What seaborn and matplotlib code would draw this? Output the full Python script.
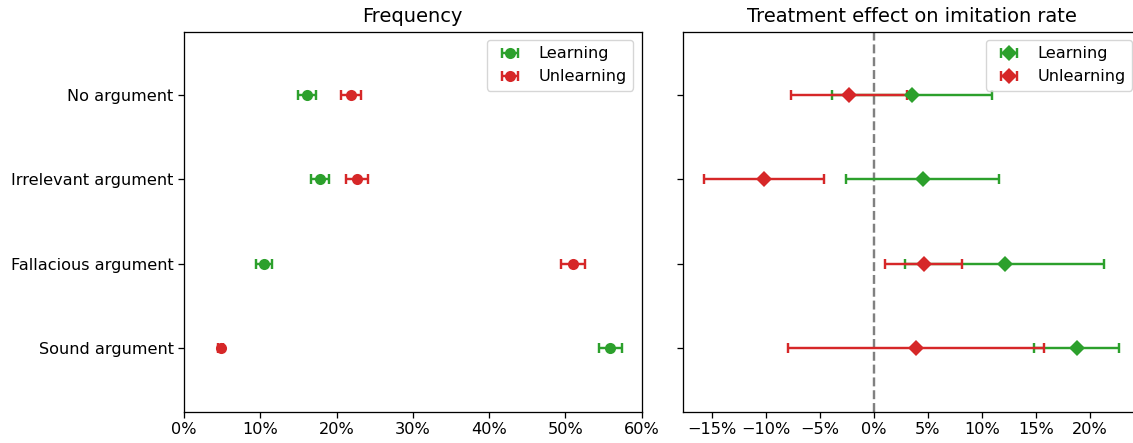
import numpy as np
import pandas as pd
import matplotlib
matplotlib.use("Agg")
import matplotlib.pyplot as plt
from matplotlib.ticker import PercentFormatter
from matplotlib.container import ErrorbarContainer
import seaborn as sns

categories = ["No argument", "Irrelevant argument", "Fallacious argument", "Sound argument"]
groups = ["Learning", "Unlearning"]

# Frequency (%)
freq_learning = [16.15, 17.8, 10.5, 55.9]
freq_learning_err = [1.15, 1.2, 1.0, 1.5]
freq_unlearning = [21.9, 22.7, 51.0, 4.8]
freq_unlearning_err = [1.3, 1.4, 1.6, 0.3]

# Treatment effect on imitation rate (%)
eff_learning = [3.5, 4.5, 12.1, 18.8]
eff_learning_err = [7.4, 7.1, 9.25, 3.95]
eff_unlearning = [-2.3, -10.2, 4.6, 3.9]
eff_unlearning_err = [5.4, 5.55, 3.6, 11.85]

left_ticks = [0, 10, 20, 30, 40, 50, 60]
right_ticks = [-15, -10, -5, 0, 5, 10, 15, 20]

S = 1.16
sns.set_style("white", {"axes.edgecolor": "black", "xtick.bottom": True, "ytick.left": True,
                        "axes.spines.right": True, "axes.spines.top": True,
                        "text.color": "black", "axes.labelcolor": "black",
                        "xtick.color": "black", "ytick.color": "black"})
plt.rcParams.update({
    "font.family": ["DejaVu Sans"],
    "font.size": 10 * S,
    "axes.linewidth": 0.8 * S,
    "xtick.major.size": 3.5 * S,
    "ytick.major.size": 3.5 * S,
    "xtick.major.width": 0.8 * S,
    "ytick.major.width": 0.8 * S,
})

pal = sns.color_palette("tab10")
colors = {"Learning": pal[2], "Unlearning": pal[3]}

fig = plt.figure(figsize=(11.33, 4.43), dpi=100)
W, H = 1133, 443
bottom = (H - 411.7) / H
height = 380 / H
ax1 = fig.add_axes([184 / W, bottom, 457.5 / W, height])
ax2 = fig.add_axes([683 / W, bottom, 457.5 / W, height], sharey=ax1)


def draw(ax, vals, errs, marker, msize):
    rows = []
    for g in groups:
        for c, v in zip(categories, vals[g]):
            rows.append({"category": c, "group": g, "value": v})
    df = pd.DataFrame(rows)
    n_before = len(ax.lines)
    sns.pointplot(data=df, x="value", y="category", hue="group", order=categories,
                  hue_order=groups, palette=colors, markers=marker, linestyle="none",
                  errorbar=None, dodge=False, legend=False, ax=ax,
                  markersize=msize, markeredgewidth=0, zorder=3)
    point_lines = ax.lines[n_before:]
    pos = np.arange(len(categories))
    handles = []
    for g, pl in zip(groups, point_lines):
        cont = ax.errorbar(vals[g], pos, xerr=errs[g], fmt="none", ecolor=colors[g],
                           elinewidth=1.5 * S, capsize=3 * S, capthick=1.5 * S, zorder=1.9)
        _, caps, bars = cont.lines
        handles.append(ErrorbarContainer((pl, caps, bars), has_xerr=True, has_yerr=False,
                                         label=g))
    ax.legend(handles, groups, loc="upper right", fontsize=10 * S)


draw(ax1, {"Learning": freq_learning, "Unlearning": freq_unlearning},
     {"Learning": freq_learning_err, "Unlearning": freq_unlearning_err}, "o", 8)
draw(ax2, {"Learning": eff_learning, "Unlearning": eff_unlearning},
     {"Learning": eff_learning_err, "Unlearning": eff_unlearning_err}, "D", 8)

ax2.axvline(0, color="gray", linestyle="--", linewidth=1.5 * S, zorder=1)

for ax in (ax1, ax2):
    ax.set_ylim(3.75, -0.75)
    ax.set_xlabel("")
    ax.set_ylabel("")
    ax.xaxis.set_major_formatter(PercentFormatter(decimals=0))

ax1.set_yticks(range(len(categories)))
ax1.set_yticklabels(categories)
ax2.tick_params(axis="y", labelleft=False)

ax1.set_xlim(0, 60)
ax1.set_xticks(left_ticks)
ax2.set_xlim(-17.7, 24.7)
ax2.set_xticks(right_ticks)

ax1.set_title("Frequency", fontsize=12 * S, pad=6 * S)
ax2.set_title("Treatment effect on imitation rate", fontsize=12 * S, pad=6 * S)

fig.savefig("out.png", dpi=100)
